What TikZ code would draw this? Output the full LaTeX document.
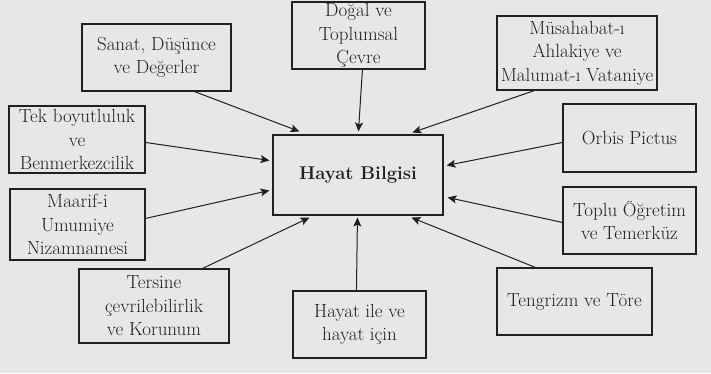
\documentclass[tikz,border=0pt]{standalone}
\usetikzlibrary{arrows.meta,calc}
\definecolor{bg}{HTML}{E6E7E8}
\definecolor{ink}{HTML}{231F20}
\begin{document}
\begin{tikzpicture}[x=1pt,y=-1pt,
  box/.style={draw=ink,line width=1.1pt,align=center,inner sep=0pt,
    font=\fontsize{19}{23.5}\selectfont,text=ink},
  arr/.style={draw=ink,line width=1pt,-{Stealth[length=9pt,width=8pt,inset=2pt]}}]
\fill[bg] (0,0) rectangle (711,373);
\useasboundingbox (0,0) rectangle (711,373);
\node[box,minimum width=149pt,minimum height=67pt] (sanat) at (156.5,57.5) {Sanat, Düşünce\\ve Değerler};
\node[box,minimum width=136pt,minimum height=67pt] (tek) at (77,139.5) {Tek boyutluluk\\ve\\Benmerkezcilik};
\node[box,minimum width=133pt,minimum height=67pt] (dogal) at (358.5,35.5) {Doğal ve\\Toplumsal\\Çevre};
\node[box,minimum width=160pt,minimum height=74pt] (musa) at (577,53) {Müsahabat-ı\\Ahlakiye ve\\Malumat-ı Vataniye};
\node[box,minimum width=133pt,minimum height=68pt] (orbis) at (629.5,138) {Orbis Pictus};
\node[box,minimum width=170pt,minimum height=80pt,font=\fontsize{18.5}{24}\selectfont\bfseries] (hb) at (358,175) {Hayat Bilgisi};
\node[box,minimum width=135pt,minimum height=71pt] (maarif) at (77.5,224.5) {Maarif-i\\Umumiye\\Nizamnamesi};
\node[box,minimum width=150pt,minimum height=74pt] (tersine) at (154,306) {Tersine\\çevrilebilirlik\\ve Korunum};
\node[box,minimum width=133pt,minimum height=67pt] (hayat) at (359.5,324.5) {Hayat ile ve\\hayat için};
\node[box,minimum width=133pt,minimum height=67pt] (toplu) at (629.5,220.5) {Toplu Öğretim\\ve Temerküz};
\node[box,minimum width=155pt,minimum height=67pt] (tengri) at (574.5,301.5) {Tengrizm ve Töre};
\draw[arr] ($(sanat.south west)+(113,0)$) -- ($(hb.north west)+(27,-3)$);
\draw[arr] ($(tek.north east)+(0,37)$) -- ($(hb.north west)+(-3,26)$);
\draw[arr] ($(dogal.south west)+(71,0)$) -- ($(hb.north west)+(86,-3)$);
\draw[arr] ($(musa.south west)+(38,0)$) -- ($(hb.north west)+(140,-2)$);
\draw[arr] ($(orbis.north west)+(0,39)$) -- ($(hb.north east)+(3,31)$);
\draw[arr] ($(maarif.north east)+(0,30)$) -- ($(hb.north west)+(-3,56)$);
\draw[arr] ($(tersine.north west)+(124,0)$) -- ($(hb.south west)+(37,2)$);
\draw[arr] ($(hayat.north west)+(64,0)$) -- ($(hb.south west)+(85,2)$);
\draw[arr] ($(toplu.north west)+(0,36)$) -- ($(hb.north east)+(4,63)$);
\draw[arr] ($(tengri.north west)+(39,0)$) -- ($(hb.south west)+(139,2)$);
\end{tikzpicture}
\end{document}
